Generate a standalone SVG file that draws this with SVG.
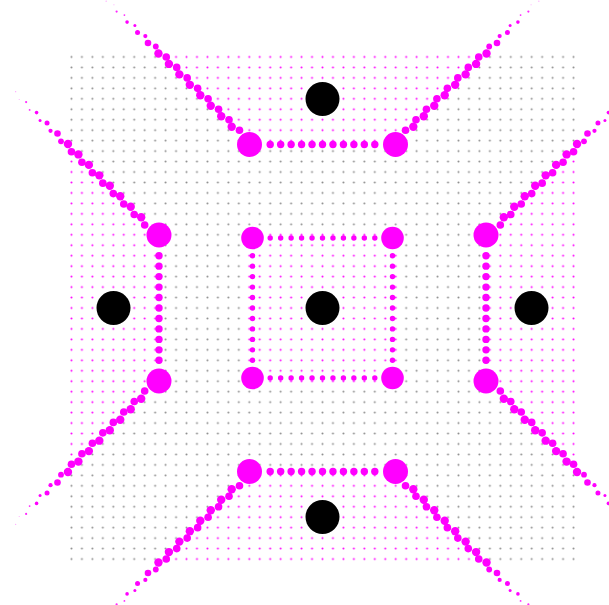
<svg xmlns="http://www.w3.org/2000/svg" xmlns:xlink="http://www.w3.org/1999/xlink" width="609" height="605" viewBox="0 0 609 605">
<style>
.vtx{fill:#ff00ff}
.site{fill:#000}
</style>
<defs>
<pattern id="pg" patternUnits="userSpaceOnUse" x="66.23" y="51.73" width="10.46" height="10.46"><circle cx="5.23" cy="5.23" r="1" fill="#8c8c8c"/></pattern>
<pattern id="pm" patternUnits="userSpaceOnUse" x="66.23" y="51.73" width="10.46" height="10.46"><rect width="10.46" height="10.46" fill="#fff"/><circle cx="5.23" cy="5.23" r="1" fill="#ff00ff"/></pattern>
<g id="diag">
<circle cx="-90.82" cy="-181.32" r="4.2"/>
<circle cx="-101.28" cy="-191.78" r="4.2"/>
<circle cx="-111.74" cy="-202.24" r="4.2"/>
<circle cx="-122.2" cy="-212.7" r="4.2"/>
<circle cx="-132.66" cy="-223.16" r="4.2"/>
<circle cx="-143.12" cy="-233.62" r="4.2"/>
<circle cx="-153.58" cy="-244.08" r="4.2"/>
<circle cx="-164.04" cy="-254.54" r="4.2"/>
<circle cx="-174.5" cy="-265" r="3.3"/>
<circle cx="-184.96" cy="-275.46" r="2.5"/>
<circle cx="-195.42" cy="-285.92" r="1.8"/>
<circle cx="-205.88" cy="-296.38" r="1.1" opacity="0.85"/>
<circle cx="-216.34" cy="-306.84" r="0.6" opacity="0.4"/>
<circle cx="-83.02" cy="-177.82" r="3.8"/>
<circle cx="-93.48" cy="-188.28" r="3.8"/>
<circle cx="-103.94" cy="-198.74" r="3.8"/>
<circle cx="-114.4" cy="-209.2" r="3.8"/>
<circle cx="-124.86" cy="-219.66" r="3.8"/>
<circle cx="-135.32" cy="-230.12" r="3.8"/>
<circle cx="-145.78" cy="-240.58" r="3.8"/>
<circle cx="-156.24" cy="-251.04" r="3.8"/>
<circle cx="-166.7" cy="-261.5" r="2.9"/>
<circle cx="-177.16" cy="-271.96" r="2.1"/>
<circle cx="-187.62" cy="-282.42" r="1.5"/>
<circle cx="-198.08" cy="-292.88" r="0.9" opacity="0.85"/>
<circle cx="-208.54" cy="-303.34" r="0.5" opacity="0.4"/>
</g>
<g id="edge">
<circle cx="-52.3" cy="-163.5" r="3.7"/>
<circle cx="-41.84" cy="-163.5" r="3.7"/>
<circle cx="-31.38" cy="-163.5" r="3.7"/>
<circle cx="-20.92" cy="-163.5" r="3.7"/>
<circle cx="-10.46" cy="-163.5" r="3.7"/>
<circle cx="0" cy="-163.5" r="3.7"/>
<circle cx="10.46" cy="-163.5" r="3.7"/>
<circle cx="20.92" cy="-163.5" r="3.7"/>
<circle cx="31.38" cy="-163.5" r="3.7"/>
<circle cx="41.84" cy="-163.5" r="3.7"/>
<circle cx="52.3" cy="-163.5" r="3.7"/>
</g>
<g id="iedge">
<circle cx="-52.3" cy="-70" r="2.7"/>
<circle cx="-41.84" cy="-70" r="2.7"/>
<circle cx="-31.38" cy="-70" r="2.7"/>
<circle cx="-20.92" cy="-70" r="2.7"/>
<circle cx="-10.46" cy="-70" r="2.7"/>
<circle cx="0" cy="-70" r="2.7"/>
<circle cx="10.46" cy="-70" r="2.7"/>
<circle cx="20.92" cy="-70" r="2.7"/>
<circle cx="31.38" cy="-70" r="2.7"/>
<circle cx="41.84" cy="-70" r="2.7"/>
<circle cx="52.3" cy="-70" r="2.7"/>
</g>
</defs>
<rect width="609" height="605" fill="#fff"/>
<g id="grid">
<rect x="66.23" y="51.73" width="512.54" height="512.54" fill="url(#pg)"/>
<rect x="244" y="229.5" width="157" height="157" fill="url(#pm)"/>
<polygon points="156.73,51.73 488.27,51.73 394,146 251,146" fill="url(#pm)"/>
<polygon points="251,470 394,470 488.27,564.27 156.73,564.27" fill="url(#pm)"/>
<polygon points="66.23,142.23 160.5,236.5 160.5,379.5 66.23,473.77" fill="url(#pm)"/>
<polygon points="578.77,142.23 484.5,236.5 484.5,379.5 578.77,473.77" fill="url(#pm)"/>
</g>
<g id="connectors" fill="#ff00ff">
<use xlink:href="#diag" fill="#ff00ff" transform="matrix(1,0,0,1,322.5,308)"/>
<use xlink:href="#diag" fill="#ff00ff" transform="matrix(-1,0,0,1,322.5,308)"/>
<use xlink:href="#diag" fill="#ff00ff" transform="matrix(1,0,0,-1,322.5,308)"/>
<use xlink:href="#diag" fill="#ff00ff" transform="matrix(-1,0,0,-1,322.5,308)"/>
<use xlink:href="#diag" fill="#ff00ff" transform="matrix(0,1,1,0,322.5,308)"/>
<use xlink:href="#diag" fill="#ff00ff" transform="matrix(0,1,-1,0,322.5,308)"/>
<use xlink:href="#diag" fill="#ff00ff" transform="matrix(0,-1,1,0,322.5,308)"/>
<use xlink:href="#diag" fill="#ff00ff" transform="matrix(0,-1,-1,0,322.5,308)"/>
<use xlink:href="#edge" fill="#ff00ff" transform="matrix(1,0,0,1,322.5,308)"/>
<use xlink:href="#edge" fill="#ff00ff" transform="matrix(1,0,0,-1,322.5,308)"/>
<use xlink:href="#edge" fill="#ff00ff" transform="matrix(0,1,1,0,322.5,308)"/>
<use xlink:href="#edge" fill="#ff00ff" transform="matrix(0,1,-1,0,322.5,308)"/>
<use xlink:href="#iedge" fill="#ff00ff" transform="matrix(1,0,0,1,322.5,308)"/>
<use xlink:href="#iedge" fill="#ff00ff" transform="matrix(1,0,0,-1,322.5,308)"/>
<use xlink:href="#iedge" fill="#ff00ff" transform="matrix(0,1,1,0,322.5,308)"/>
<use xlink:href="#iedge" fill="#ff00ff" transform="matrix(0,1,-1,0,322.5,308)"/>
</g>
<g id="nodes">
<g id="v-top-left"><circle class="vtx" cx="249.5" cy="144.5" r="12.5"/></g>
<g id="v-top-right"><circle class="vtx" cx="395.5" cy="144.5" r="12.5"/></g>
<g id="v-bottom-left"><circle class="vtx" cx="249.5" cy="471.5" r="12.5"/></g>
<g id="v-bottom-right"><circle class="vtx" cx="395.5" cy="471.5" r="12.5"/></g>
<g id="v-left-top"><circle class="vtx" cx="159" cy="235" r="12.5"/></g>
<g id="v-left-bottom"><circle class="vtx" cx="159" cy="381" r="12.5"/></g>
<g id="v-right-top"><circle class="vtx" cx="486" cy="235" r="12.5"/></g>
<g id="v-right-bottom"><circle class="vtx" cx="486" cy="381" r="12.5"/></g>
<g id="v-inner-tl"><circle class="vtx" cx="252.5" cy="238" r="11.3"/></g>
<g id="v-inner-tr"><circle class="vtx" cx="392.5" cy="238" r="11.3"/></g>
<g id="v-inner-bl"><circle class="vtx" cx="252.5" cy="378" r="11.3"/></g>
<g id="v-inner-br"><circle class="vtx" cx="392.5" cy="378" r="11.3"/></g>
<g id="site-top"><circle class="site" cx="322.5" cy="99" r="17"/></g>
<g id="site-left"><circle class="site" cx="113.5" cy="308" r="17"/></g>
<g id="site-center"><circle class="site" cx="322.5" cy="308" r="17"/></g>
<g id="site-right"><circle class="site" cx="531.5" cy="308" r="17"/></g>
<g id="site-bottom"><circle class="site" cx="322.5" cy="517" r="17"/></g>
</g>
</svg>
